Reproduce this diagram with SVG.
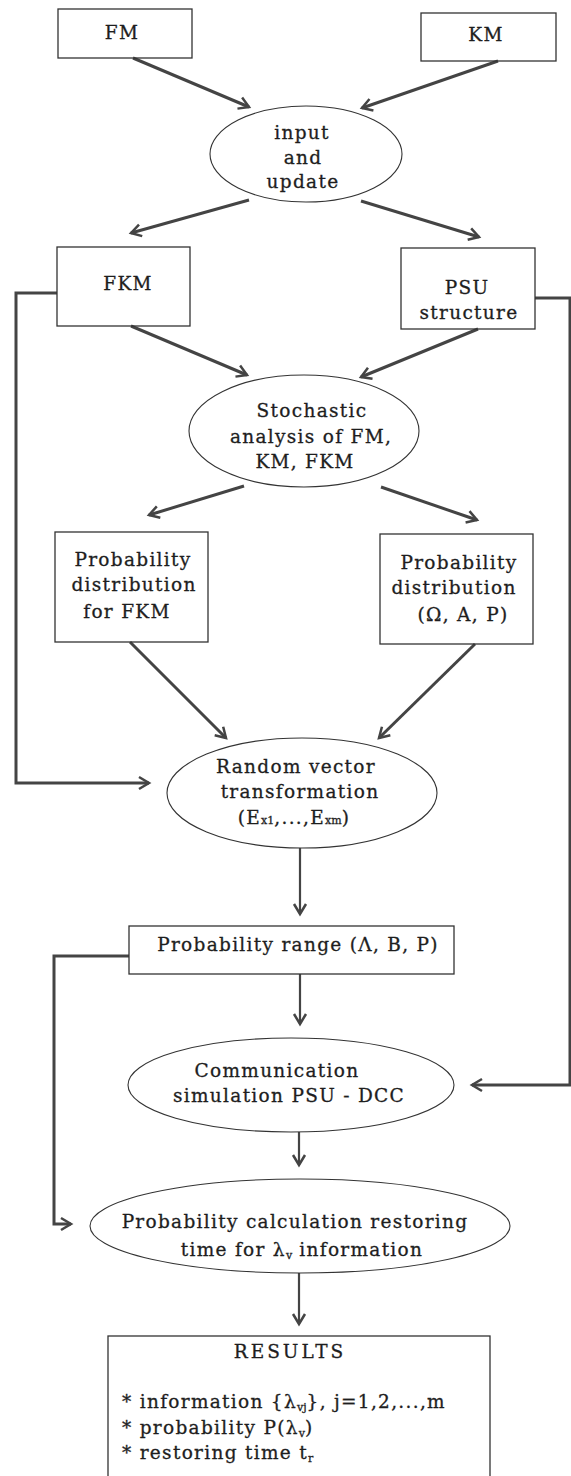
<svg xmlns="http://www.w3.org/2000/svg" width="571" height="1476" viewBox="0 0 571 1476">
<style>
.box{fill:none;stroke:#333;stroke-width:1.3}
.ell{fill:none;stroke:#333;stroke-width:1.1}
.t{font-family:"DejaVu Serif",serif;font-size:18.5px;fill:#1e1e1e;stroke:#1e1e1e;stroke-width:0.3;letter-spacing:1.3px;text-anchor:middle}
.l{text-anchor:start}
.s{font-size:11px;letter-spacing:0}
.arr{stroke:#444;stroke-width:3;fill:none;marker-end:url(#ah)}
.varr{stroke:#444;stroke-width:2.2;fill:none;marker-end:url(#ah)}
</style>
<defs>
<marker id="ah" markerUnits="userSpaceOnUse" markerWidth="16" markerHeight="16" refX="13" refY="8" orient="auto">
<path d="M3,2 L13,8 L3,14" fill="none" stroke="#444" stroke-width="2.5"/>
</marker>
</defs>
<rect width="571" height="1476" fill="#fff"/>
<g id="connectors">
<line class="arr" x1="133" y1="58" x2="249" y2="107"/>
<line class="arr" x1="498" y1="61" x2="362" y2="108"/>
<line class="arr" x1="249" y1="200" x2="131" y2="233"/>
<line class="arr" x1="361" y1="201" x2="479" y2="237"/>
<line class="arr" x1="131" y1="326" x2="247" y2="375"/>
<line class="arr" x1="478" y1="329" x2="361" y2="377"/>
<line class="arr" x1="244" y1="486" x2="149" y2="515"/>
<line class="arr" x1="381" y1="487" x2="477" y2="520"/>
<line class="arr" x1="130" y1="642" x2="226" y2="738"/>
<line class="arr" x1="475" y1="644" x2="379" y2="738"/>
<polyline class="arr" points="57,293 16,293 16,783 149,783"/>
<polyline class="arr" points="535,298 570,298 570,1085 472,1085"/>
<line class="varr" x1="300" y1="848" x2="300" y2="914"/>
<polyline class="arr" points="129,956 54,956 54,1224 71,1224"/>
<line class="varr" x1="300" y1="974" x2="300" y2="1024"/>
<line class="varr" x1="299" y1="1132" x2="299" y2="1165"/>
<line class="varr" x1="299" y1="1273" x2="299" y2="1324"/>
</g>
<g id="fm"><rect class="box" x="58" y="9" width="134" height="49"/><text class="t" x="122" y="39">FM</text></g>
<g id="km"><rect class="box" x="421" y="13" width="135" height="48"/><text class="t" x="486" y="41">KM</text></g>
<g id="input"><ellipse class="ell" cx="306" cy="154" rx="96" ry="48"/>
<text class="t" x="302" y="139">input</text><text class="t" x="303" y="164">and</text><text class="t" x="303" y="188">update</text></g>
<g id="fkm"><rect class="box" x="57" y="247" width="133" height="79"/><text class="t" x="128" y="290">FKM</text></g>
<g id="psu"><rect class="box" x="401" y="248" width="134" height="81"/><text class="t" x="467" y="294">PSU</text><text class="t" x="469" y="319">structure</text></g>
<g id="stochastic"><ellipse class="ell" cx="304" cy="431" rx="115" ry="56"/>
<text class="t" x="312" y="417">Stochastic</text><text class="t" x="311" y="443">analysis of FM,</text><text class="t" x="305" y="468">KM, FKM</text></g>
<g id="pdfkm"><rect class="box" x="55" y="532" width="153" height="110"/>
<text class="t" x="133" y="566">Probability</text><text class="t" x="134" y="591">distribution</text><text class="t" x="127" y="618">for FKM</text></g>
<g id="pdomega"><rect class="box" x="380" y="534" width="153" height="110"/>
<text class="t" x="459" y="569">Probability</text><text class="t" x="454" y="594">distribution</text><text class="t" x="463" y="621">(Ω, A, P)</text></g>
<g id="random"><ellipse class="ell" cx="302" cy="793" rx="135" ry="55"/>
<text class="t" x="296" y="773">Random vector</text><text class="t" x="300" y="798">transformation</text>
<text class="t" x="294" y="824">(E<tspan class="s">x1</tspan>,...,E<tspan class="s">xm</tspan>)</text></g>
<g id="range"><rect class="box" x="129" y="926" width="325" height="48"/><text class="t" x="298" y="951">Probability range (Λ, B, P)</text></g>
<g id="comm"><ellipse class="ell" cx="291" cy="1085" rx="163" ry="47"/>
<text class="t" x="277" y="1077">Communication</text><text class="t" x="289" y="1102">simulation PSU - DCC</text></g>
<g id="calc"><ellipse class="ell" cx="300" cy="1226" rx="210" ry="47"/>
<text class="t" x="295" y="1228">Probability calculation restoring</text>
<text class="t" x="302" y="1256">time for λ<tspan class="s" dy="3">v</tspan><tspan dy="-3"> information</tspan></text></g>
<g id="results"><rect class="box" x="108" y="1336" width="382" height="150"/>
<text class="t" x="290" y="1358" style="letter-spacing:3px">RESULTS</text>
<text class="t l" x="122" y="1408">* information {λ<tspan class="s" dy="3">vj</tspan><tspan dy="-3">}, j=1,2,...,m</tspan></text>
<text class="t l" x="122" y="1434">* probability P(λ<tspan class="s" dy="3">v</tspan><tspan dy="-3">)</tspan></text>
<text class="t l" x="122" y="1459">* restoring time t<tspan class="s" dy="3">r</tspan></text></g>
</svg>
